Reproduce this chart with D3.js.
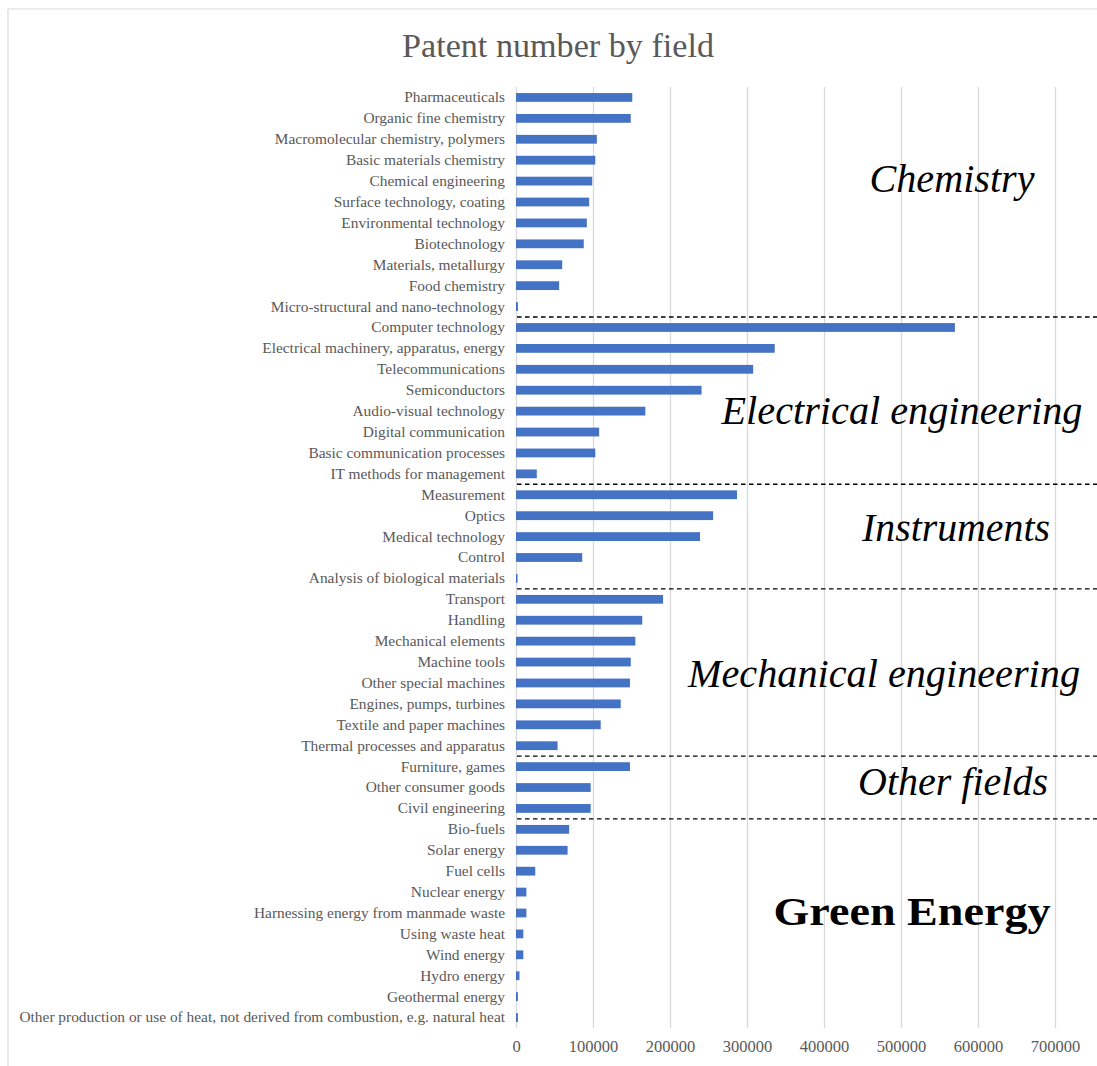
<!DOCTYPE html>
<html>
<head>
<meta charset="utf-8">
<script src="https://cdn.jsdelivr.net/npm/d3@7"></script>
<style>
  html, body { margin: 0; padding: 0; background: #ffffff; }
  svg { display: block; }
</style>
</head>
<body>
<svg id="chart" width="1097" height="1066"></svg>
<script>
// Fields, top to bottom
const categories = [
  "Pharmaceuticals", "Organic fine chemistry", "Macromolecular chemistry, polymers",
  "Basic materials chemistry", "Chemical engineering", "Surface technology, coating",
  "Environmental technology", "Biotechnology", "Materials, metallurgy", "Food chemistry",
  "Micro-structural and nano-technology",
  "Computer technology", "Electrical machinery, apparatus, energy", "Telecommunications",
  "Semiconductors", "Audio-visual technology", "Digital communication",
  "Basic communication processes", "IT methods for management",
  "Measurement", "Optics", "Medical technology", "Control", "Analysis of biological materials",
  "Transport", "Handling", "Mechanical elements", "Machine tools", "Other special machines",
  "Engines, pumps, turbines", "Textile and paper machines", "Thermal processes and apparatus",
  "Furniture, games", "Other consumer goods", "Civil engineering",
  "Bio-fuels", "Solar energy", "Fuel cells", "Nuclear energy",
  "Harnessing energy from manmade waste", "Using waste heat", "Wind energy", "Hydro energy",
  "Geothermal energy",
  "Other production or use of heat, not derived from combustion, e.g. natural heat"
];

// Patent counts per field
const patents = [
  151000, 149000, 105000, 103000, 99000, 95000, 92000, 88000, 60000, 56000,
  2500,
  570000, 336000, 308000, 241000, 168000, 108000, 103000, 27000,
  287000, 256000, 239000, 86000, 2000,
  191000, 164000, 155000, 149000, 148000, 136000, 110000, 54000,
  148000, 97000, 97000,
  69000, 67000, 25000, 13500, 13500, 9500, 9500, 4500, 2500, 2500
];

// Field groups: name and number of fields in each
const groupNames = ["Chemistry", "Electrical engineering", "Instruments",
                    "Mechanical engineering", "Other fields", "Green Energy"];
const groupSizes = [11, 8, 5, 8, 3, 10];

const tickValues = [0, 100000, 200000, 300000, 400000, 500000, 600000, 700000];

const svg = d3.select("#chart");
const W = 1097, H = 1066;
const serif = "'Liberation Serif', 'Times New Roman', serif";
const textGrey = "#595959";

// chart frame (top and left edges visible)
svg.append("line").attr("x1", 8).attr("x2", W).attr("y1", 9).attr("y2", 9)
  .attr("stroke", "#d9d9d9").attr("stroke-width", 1.2);
svg.append("line").attr("x1", 8).attr("x2", 8).attr("y1", 9).attr("y2", H)
  .attr("stroke", "#d9d9d9").attr("stroke-width", 1.2);

// title
svg.append("text")
  .attr("x", 402).attr("y", 57)
  .attr("textLength", 312).attr("lengthAdjust", "spacingAndGlyphs")
  .attr("font-family", serif).attr("font-size", 34).attr("fill", textGrey)
  .text("Patent number by field");

const x = d3.scaleLinear().domain([0, 700000]).range([516, 1055]);
const y = d3.scaleBand().domain(categories).range([87, 1028]).paddingInner(0.58).paddingOuter(0.29);

// vertical gridlines
svg.append("g")
  .selectAll("line")
  .data(tickValues)
  .join("line")
  .attr("x1", d => Math.round(x(d)) + 0.5).attr("x2", d => Math.round(x(d)) + 0.5)
  .attr("y1", 87).attr("y2", 1028)
  .attr("stroke", "#d9d9d9").attr("stroke-width", 1.3);

// x axis labels
const xAxis = d3.axisBottom(x).tickValues(tickValues).tickSize(0).tickPadding(0)
  .tickFormat(d3.format("d"));
const gx = svg.append("g").attr("transform", "translate(0,1040)").call(xAxis);
gx.select(".domain").remove();
gx.selectAll("text")
  .attr("font-family", serif).attr("font-size", 16.5).attr("fill", textGrey);

// category labels
const yAxis = d3.axisLeft(y).tickSize(0).tickPadding(11);
const gy = svg.append("g").attr("transform", "translate(516,0)").call(yAxis);
gy.select(".domain").remove();
gy.selectAll("text")
  .attr("font-family", serif).attr("font-size", 15.4).attr("fill", textGrey);

// bars
const rows = categories.map((c, i) => ({ name: c, value: patents[i] }));
svg.append("g")
  .selectAll("rect")
  .data(rows)
  .join("rect")
  .attr("x", x(0))
  .attr("y", d => y(d.name))
  .attr("width", d => Math.max(1.5, x(d.value) - x(0)))
  .attr("height", y.bandwidth())
  .attr("fill", "#4472c4");

// group dividers and group titles
const step = y.step();
let start = 0;
const groups = groupNames.map((g, i) => {
  const first = categories[start];
  const last = categories[start + groupSizes[i] - 1];
  start += groupSizes[i];
  return { name: g, first, last };
});

const dividers = groups.slice(1).map(g => y(g.first) - (step - y.bandwidth()) / 2);
svg.append("g")
  .selectAll("line")
  .data(dividers)
  .join("line")
  .attr("x1", 517).attr("x2", W)
  .attr("y1", d => d).attr("y2", d => d)
  .attr("stroke", "#000").attr("stroke-width", 1.4)
  .attr("stroke-dasharray", "4.5,3.5");

// group title placement: centre x, baseline y, rendered width
const groupLabelPos = [
  { cx: 952, by: 192, w: 165 },
  { cx: 902, by: 424, w: 361 },
  { cx: 956, by: 541, w: 188 },
  { cx: 884, by: 687, w: 392 },
  { cx: 953, by: 795, w: 190 },
  { cx: 912, by: 925, w: 277 }
];
svg.append("g")
  .selectAll("text")
  .data(groups)
  .join("text")
  .attr("x", (d, i) => groupLabelPos[i].cx)
  .attr("y", (d, i) => groupLabelPos[i].by)
  .attr("text-anchor", "middle")
  .attr("textLength", (d, i) => groupLabelPos[i].w)
  .attr("lengthAdjust", "spacingAndGlyphs")
  .attr("font-family", serif)
  .attr("font-size", 40)
  .attr("font-style", d => d.name === "Green Energy" ? "normal" : "italic")
  .attr("font-weight", d => d.name === "Green Energy" ? "bold" : "normal")
  .attr("fill", "#000")
  .text(d => d.name);
</script>
</body>
</html>
